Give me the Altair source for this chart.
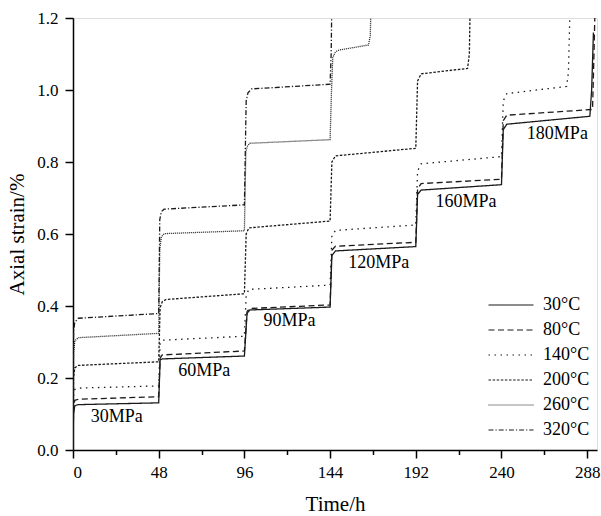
import altair as alt
import pandas as pd

temps = ["30°C", "80°C", "140°C", "200°C", "260°C", "320°C"]

t_30 = [0, 0.3, 1, 3, 48, 48.8, 50, 96, 97.5, 99, 144, 145, 147, 192, 193, 195, 240, 241, 243, 289.5, 290.5, 291.5]
e_30 = [0, 0.10, 0.123, 0.126, 0.131, 0.25, 0.253, 0.261, 0.38, 0.389, 0.397, 0.54, 0.553, 0.565, 0.71, 0.722, 0.737, 0.89, 0.905, 0.927, 1.0, 1.16]

t_80 = [0, 0.3, 1, 3, 48, 48.8, 50, 96, 97.5, 99, 144, 145, 147, 192, 193, 195, 240, 241, 243, 291, 291.8, 292.5]
e_80 = [0, 0.12, 0.138, 0.141, 0.148, 0.255, 0.264, 0.275, 0.385, 0.393, 0.403, 0.555, 0.566, 0.577, 0.725, 0.74, 0.752, 0.915, 0.93, 0.946, 1.1, 1.25]

t_140 = [0, 0.3, 1, 3, 48, 48.8, 50, 96, 97, 98.5, 144, 145, 147, 192, 193, 195, 240, 241, 243, 276.5, 277.5, 278.5]
e_140 = [0, 0.15, 0.168, 0.172, 0.178, 0.295, 0.305, 0.316, 0.43, 0.446, 0.458, 0.595, 0.61, 0.625, 0.775, 0.795, 0.815, 0.97, 0.99, 1.01, 1.05, 1.25]

t_200 = [0, 0.3, 1, 3, 48, 48.8, 50, 52, 96, 97, 98.5, 144, 145, 147, 192, 193, 195, 221, 222, 222.5]
e_200 = [0, 0.2, 0.228, 0.235, 0.245, 0.395, 0.412, 0.418, 0.434, 0.6, 0.617, 0.636, 0.8, 0.817, 0.838, 1.025, 1.045, 1.06, 1.1, 1.25]

t_260 = [0, 0.3, 1, 3, 48, 48.6, 49.5, 51, 96, 96.8, 97.8, 99, 144, 144.8, 145.5, 147, 149, 165.5, 166.5, 167]
e_260 = [0, 0.27, 0.303, 0.312, 0.324, 0.56, 0.592, 0.601, 0.609, 0.83, 0.845, 0.852, 0.862, 1.0, 1.09, 1.106, 1.111, 1.125, 1.15, 1.25]

t_320 = [0, 0.3, 1, 3, 48, 48.6, 49.5, 51, 96, 97, 98, 100, 144, 144.6, 145]
e_320 = [0, 0.33, 0.355, 0.366, 0.379, 0.64, 0.662, 0.669, 0.681, 0.97, 0.992, 1.003, 1.016, 1.1, 1.25]

series_t = [t_30, t_80, t_140, t_200, t_260, t_320]
series_e = [e_30, e_80, e_140, e_200, e_260, e_320]

dashes = [[1, 0], [6, 3.5], [1.5, 4.5], [2.5, 1.6], [1, 1], [5, 2, 1.2, 2]]

label_text = ["30MPa", "60MPa", "90MPa", "120MPa", "160MPa", "180MPa"]
label_t = [24.5, 73.5, 121.2, 171.2, 220.1, 271.3]
label_v = [0.0925, 0.22, 0.358, 0.519, 0.69, 0.877]

y_ticks = [round(0.1 * i, 1) for i in range(13)]
x_ticks = [24 * i for i in range(13)]

rows = []
for name, ts, es in zip(temps, series_t, series_e):
    for i, (t, e) in enumerate(zip(ts, es)):
        rows.append({"temp": name, "t": t, "e": e, "order": i})
df = pd.DataFrame(rows)
lab = pd.DataFrame({"text": label_text, "t": label_t, "v": label_v})

FONT = "Liberation Serif"

xscale = alt.Scale(domain=[0, 293.5], nice=False, zero=False)
yscale = alt.Scale(domain=[0, 1.2], nice=False)

xaxis = alt.Axis(
    values=x_ticks, title="Time/h", grid=False,
    labelExpr="datum.value % 48 == 0 ? datum.label : ''",
    tickDash={"condition": {"test": "datum.value % 48 != 0", "value": [4.5, 20]}, "value": [20, 0]},
    tickSize=8, tickWidth=1.5, tickColor="black", domainColor="black", domainWidth=1.5,
    labelFont=FONT, labelFontSize=17, labelColor="black", labelPadding=6,
    titleFont=FONT, titleFontSize=21, titleFontWeight="normal", titleColor="black", titlePadding=13,
)
yaxis = alt.Axis(
    values=y_ticks, title="Axial strain/%", grid=False, format=".1f",
    labelExpr="round(datum.value*10) % 2 == 0 ? datum.label : ''",
    tickDash={"condition": {"test": "round(datum.value*10) % 2 == 1", "value": [4.5, 20]}, "value": [20, 0]},
    tickSize=8, tickWidth=1.5, tickColor="black", domainColor="black", domainWidth=1.5,
    labelFont=FONT, labelFontSize=17, labelColor="black", labelPadding=7,
    titleFont=FONT, titleFontSize=21, titleFontWeight="normal", titleColor="black", titlePadding=9,
)

lines = alt.Chart(df).mark_line(clip=True, color="#1a1a1a", strokeWidth=1.3).encode(
    x=alt.X("t:Q", scale=xscale, axis=xaxis),
    y=alt.Y("e:Q", scale=yscale, axis=yaxis),
    order="order:Q",
    strokeDash=alt.StrokeDash(
        "temp:N",
        scale=alt.Scale(domain=temps, range=dashes),
        legend=alt.Legend(
            title=None, orient="none", legendX=429, legendY=278,
            symbolType="M-3,0H3", symbolSize=225, symbolStrokeWidth=1.2,
            symbolStrokeColor="#1a1a1a", symbolFillColor="transparent",
            labelFont=FONT, labelFontSize=18, labelAlign="left",
            labelColor="black", rowPadding=7, labelOffset=23,
        ),
    ),
)

texts = alt.Chart(lab).mark_text(font=FONT, fontSize=18, color="black").encode(
    x=alt.X("t:Q", scale=xscale),
    y=alt.Y("v:Q", scale=yscale),
    text="text:N",
)

chart = alt.layer(lines, texts).properties(
    width=524, height=432,
    autosize=alt.AutoSizeParams(type="none"),
    padding={"left": 73, "top": 18, "right": 4, "bottom": 66},
).configure_view(stroke=None).configure(background="white")

chart.save("out.html", embed_options={"renderer": "svg", "actions": False})
